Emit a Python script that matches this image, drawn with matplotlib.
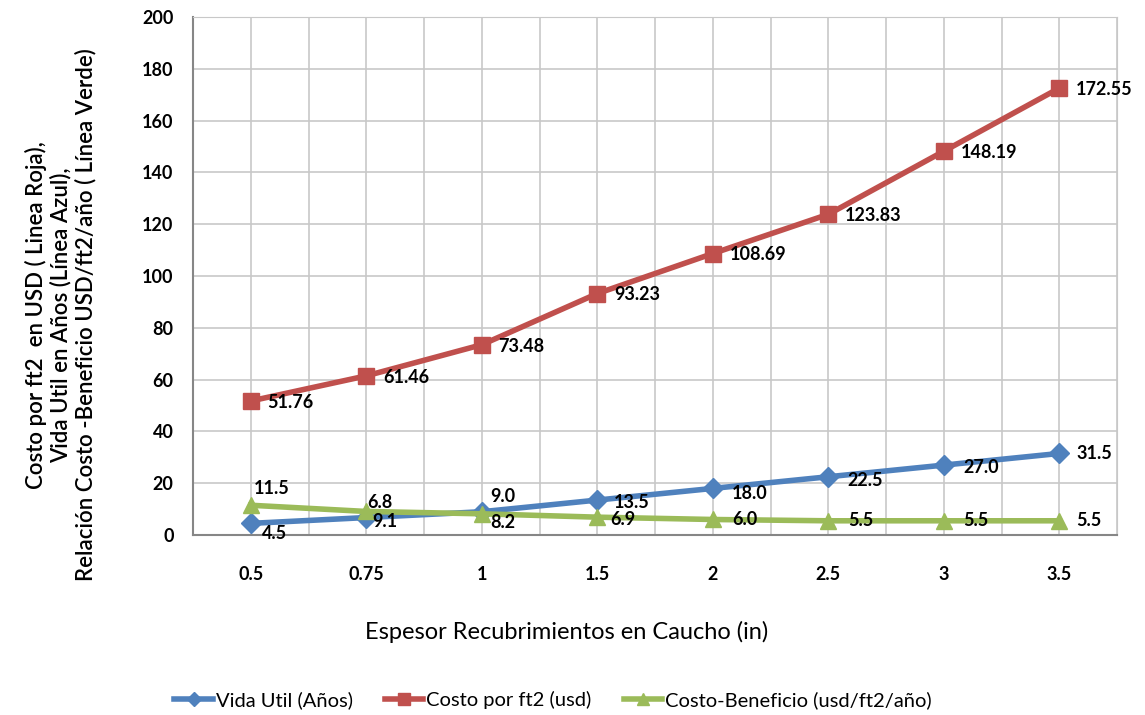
import numpy as np
import matplotlib
matplotlib.use('Agg')
import matplotlib.pyplot as plt

plt.rcParams['font.family'] = ['Lato', 'DejaVu Sans']

espesor = ['0.5', '0.75', '1', '1.5', '2', '2.5', '3', '3.5']
vida_util = [4.5, 6.75, 9.0, 13.5, 18.0, 22.5, 27.0, 31.5]
costo_ft2 = [51.76, 61.46, 73.48, 93.23, 108.69, 123.83, 148.19, 172.55]
costo_beneficio = [11.5, 9.1, 8.2, 6.9, 6.0, 5.5, 5.5, 5.5]

blue = '#4F81BD'
red = '#C0504D'
green = '#9BBB59'

fig = plt.figure(figsize=(11.45, 7.15), dpi=100)
ax = fig.add_axes([0.1686, 0.2517, 0.807, 0.7245])
x = np.arange(len(espesor))

ax.plot(x, vida_util, color=blue, lw=4, marker='D', ms=10, label='Vida Util (Años)', zorder=3)
ax.plot(x, costo_ft2, color=red, lw=4, marker='s', ms=12, label='Costo por ft2 (usd)', zorder=3)
ax.plot(x, costo_beneficio, color=green, lw=4, marker='^', ms=12, label='Costo-Beneficio (usd/ft2/año)', zorder=3)

# data labels (offsets in points)
lab_kw = dict(textcoords='offset points', fontsize=13, fontweight='bold', ha='left', va='center')
for i, v in enumerate(costo_ft2):
    ax.annotate(f'{v:.2f}', (x[i], v), xytext=(12, -1), **lab_kw)

blue_off = [(8, -7), (1, 11), (6, 11), (12, -2), (14, -4), (14, -3), (14, -2), (12, 0)]
for i, v in enumerate(vida_util):
    ax.annotate(f'{v:.1f}', (x[i], v), xytext=blue_off[i], **lab_kw)

green_off = [(2, 12), (4, -7), (6, -6), (9, -2), (14, 0), (14, 0), (14, 0), (12, 0)]
for i, v in enumerate(costo_beneficio):
    ax.annotate(f'{v:.1f}', (x[i], v), xytext=green_off[i], **lab_kw)

ax.set_xlim(-0.5, len(espesor) - 0.5)
ax.set_ylim(0, 200)
ax.set_yticks(np.arange(0, 201, 20))
ax.set_xticks(x)
ax.set_xticklabels(espesor)
ax.set_xticks(np.arange(-0.5, len(espesor), 0.5), minor=True)
ax.grid(True, which='both', axis='x', color='#C8C8C8', lw=1.2, zorder=0)
ax.grid(True, which='major', axis='y', color='#C8C8C8', lw=1.2, zorder=0)
ax.tick_params(which='both', length=0)
ax.tick_params(axis='y', labelsize=13, pad=14)
ax.tick_params(axis='x', labelsize=13, pad=22)
for lbl in ax.get_xticklabels() + ax.get_yticklabels():
    lbl.set_fontweight('bold')

for s in ['top', 'right']:
    ax.spines[s].set_color('#C8C8C8')
for s in ['left', 'bottom']:
    ax.spines[s].set_color('#868686')
    ax.spines[s].set_linewidth(1.5)

ax.set_xlabel('Espesor Recubrimientos en Caucho (in)', fontsize=17)
ax.xaxis.set_label_coords(0.404, -0.166)
ax.set_ylabel('Costo por ft2  en USD ( Linea Roja),\nVida Util en Años (Línea Azul),\n'
              'Relación Costo -Beneficio USD/ft2/año ( Línea Verde)',
              fontsize=16, fontweight='semibold', linespacing=1.2)
ax.yaxis.set_label_coords(-0.104, 0.425)

fig.legend(*ax.get_legend_handles_labels(), loc='lower center', bbox_to_anchor=(0.483, -0.017),
           ncol=3, frameon=False, fontsize=14.5, handlelength=1.9, columnspacing=1.6,
           handletextpad=0.15, markerscale=0.7)

fig.savefig('out.png', dpi=100)
